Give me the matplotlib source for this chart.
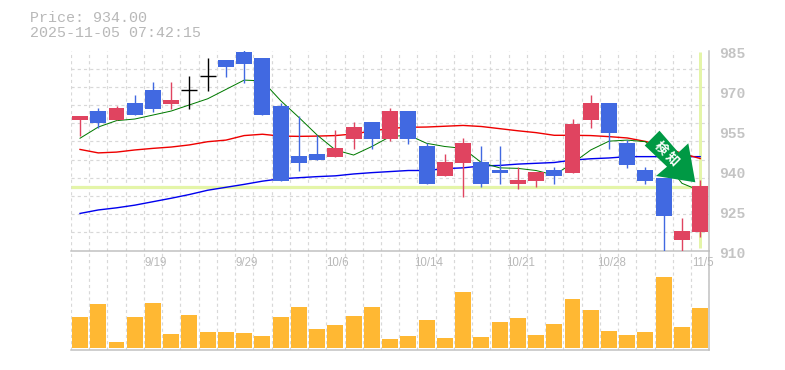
import matplotlib
matplotlib.use("Agg")
import matplotlib.pyplot as plt
import numpy as np
from matplotlib.patches import Polygon
from matplotlib.transforms import ScaledTranslation, IdentityTransform

W, H = 785, 370

opens = [958.9, 962.3, 958.9, 965.3, 970.2, 964.9, 970.1, 975.3, 981.4, 984.4, 982.2, 964.2,
         945.4, 946.2, 945.1, 951.8, 958.2, 951.8, 962.3, 949.2, 937.9, 942.8, 943.2, 940.2,
         934.9, 936.1, 940.2, 939.1, 958.9, 965.3, 950.3, 940.2, 937.2, 913.9, 916.9]
closes = [960.4, 957.8, 963.4, 960.8, 963.1, 966.4, 970.1, 975.3, 978.8, 979.9, 960.8, 936.1,
          942.8, 943.9, 948.4, 956.3, 951.8, 962.3, 951.8, 934.9, 943.2, 950.3, 934.9, 939.1,
          936.4, 939.4, 937.9, 957.4, 965.3, 954.1, 942.1, 936.1, 922.9, 917.3, 934.2]
highs = [960.4, 963.4, 964.2, 968.3, 973.2, 973.2, 975.4, 982.2, 981.4, 985.2, 982.2, 965.3,
         960.4, 953.3, 955.2, 958.2, 958.2, 963.4, 962.3, 950.3, 946.2, 952.2, 949.2, 949.2,
         941.3, 939.4, 941.3, 959.3, 968.3, 965.3, 951.4, 941.3, 937.2, 922.2, 936.4]
lows = [952.9, 955.9, 958.9, 960.8, 961.9, 963.1, 963.1, 969.8, 975.1, 972.8, 960.8, 936.1,
        939.8, 943.9, 945.1, 948.1, 948.1, 951.0, 949.9, 934.9, 937.9, 930.2, 933.8, 934.9,
        933.1, 933.8, 934.9, 939.1, 955.9, 948.1, 940.9, 934.9, 910.0, 910.0, 915.2]
ma_green = [952.1, 956.3, 958.7, 959.3, 960.8, 962.3, 964.6, 966.9, 970.4, 973.9, 973.6, 966.2,
            959.9, 953.3, 947.7, 945.8, 949.0, 952.7, 953.3, 950.2, 949.0, 948.3, 943.0, 941.0,
            940.8, 940.0, 938.3, 942.7, 947.7, 951.0, 951.4, 950.8, 944.0, 935.2, 932.4]
ma_red = [947.9, 946.6, 946.9, 947.7, 948.3, 948.8, 949.6, 950.8, 951.4, 953.1, 953.6, 952.9,
          952.8, 952.9, 953.1, 953.7, 954.8, 955.8, 956.2, 956.3, 956.6, 956.9, 956.5, 955.7,
          954.9, 954.2, 953.2, 953.2, 953.1, 952.7, 952.2, 950.9, 948.9, 946.4, 944.5]
ma_blue = [923.9, 925.2, 926.0, 927.0, 928.3, 929.6, 931.0, 932.6, 933.7, 934.8, 936.0, 936.9,
           937.3, 937.7, 938.0, 938.7, 939.2, 939.6, 940.0, 940.0, 940.7, 941.0, 941.7, 941.9,
           942.4, 942.7, 943.0, 943.9, 944.4, 944.7, 945.2, 945.2, 945.2, 945.2, 945.2]
volumes = [31, 44, 6, 31, 45, 14, 33, 16, 16, 15, 12, 31, 41, 19, 23, 32, 41, 9,
           12, 28, 10, 56, 11, 26, 30, 13, 24, 49, 38, 17, 13, 16, 71, 21, 40]
price_ticks = [910, 925, 940, 955, 970, 985]
date_pos = [4, 9, 14, 19, 24, 29, 34]
date_labels = ["9/19", "9/29", "10/6", "10/14", "10/21", "10/28", "11/5"]
current_price = 934.0
title_lines = ["Price: 934.00", "2025-11-05 07:42:15"]
signal_label = "検知"

C_UP, C_DOWN, C_DOJI = "#e04460", "#4169e1", "#000000"
C_GRID, C_AXIS, C_TEXT = "#d8d8d8", "#c0c0c0", "#b8b8b8"
C_HL, C_VOL, C_ARROW = "#e4f5a8", "#ffb833", "#009944"


def axes_px(left, top, right, bottom):
    return [left / W, 1 - bottom / H, (right - left) / W, (bottom - top) / H]


fig = plt.figure(figsize=(W / 100, H / 100), dpi=100, facecolor="white")
ax_v = fig.add_axes(axes_px(70.9, 250.5, 709.3, 350))
ax = fig.add_axes(axes_px(70.9, 50.5, 709.3, 250.5), sharex=ax_v)
ax.patch.set_visible(False)
x = np.arange(len(opens))
px = 72 / 100
dash = (0, (2.6, 2.6))

for a in (ax, ax_v):
    a.set_xlim(-0.5, 34.5)
    a.set_xticks(np.arange(-0.5, 35, 1), minor=True)
    a.tick_params(axis="x", which="minor", length=0)
    a.grid(True, which="minor", axis="x", color=C_GRID, lw=1.2 * px, linestyle=dash)
    a.set_axisbelow(True)
    for s in ("top", "left"):
        a.spines[s].set_visible(False)
    for s in ("bottom", "right"):
        a.spines[s].set_color(C_AXIS)
        a.spines[s].set_linewidth(1.5 * px)

# price panel
ax.set_ylim(910, 985)
ax.set_yticks(np.linspace(910, 985, 12), minor=True)
ax.grid(True, which="minor", axis="y", color=C_GRID, lw=1.2 * px, linestyle=dash)
ax.tick_params(axis="y", which="minor", length=0)
ax.yaxis.tick_right()
ax.set_yticks(price_ticks)
ax.tick_params(axis="y", which="major", length=0, pad=10 * px, labelcolor="#c4c4c4", labelsize=10.5)
for t in ax.get_yticklabels():
    t.set_fontfamily("Liberation Mono")
    t.set_fontweight("bold")
    t.set_transform(t.get_transform() + ScaledTranslation(0, -2.5 / 100, fig.dpi_scale_trans))

ax.set_xticks(date_pos)
ax.set_xticklabels(date_labels)
ax.tick_params(axis="x", which="major", length=0, pad=6 * px, labelcolor=C_TEXT, labelsize=8.3)
ax.tick_params(axis="x", labelbottom=True)
for t in ax.get_xticklabels():
    t.set_fontfamily("Liberation Sans")
    t.set_transform(t.get_transform() + ScaledTranslation(2.5 / 100, 0, fig.dpi_scale_trans))

ax.axhline(current_price, color=C_HL, lw=3.2 * px, zorder=1.5, solid_capstyle="butt")
ax.plot([34, 34], [911, 984.5], color=C_HL, lw=3 * px, zorder=1.5, solid_capstyle="butt")

ax.plot(x, ma_blue, color="#0000ee", lw=1.4 * px, zorder=2)
ax.plot(x, ma_red, color="#ee0000", lw=1.4 * px, zorder=2.1)
ax.plot(x, ma_green, color="#007a00", lw=1.0 * px, zorder=2.2)

o, c = np.array(opens), np.array(closes)
colors = [C_DOJI if a == b else (C_UP if b > a else C_DOWN) for a, b in zip(o, c)]
ax.vlines(x, lows, highs, colors=colors, lw=1.4 * px, zorder=3)
body = o != c
ax.bar(x[body], np.abs(c - o)[body], bottom=np.minimum(o, c)[body], width=0.877,
       color=[col for col, b in zip(colors, body) if b], zorder=3.1, linewidth=0)
ax.hlines(o[~body], x[~body] - 0.44, x[~body] + 0.44, colors=C_DOJI, lw=1.4 * px, zorder=3.1)

# volume panel
ax_v.set_ylim(-2, 97.5)
ax_v.set_yticks([])
ax_v.tick_params(axis="x", which="major", length=0, labelbottom=False)
ax_v.bar(x, volumes, width=0.877, color=C_VOL, linewidth=0, zorder=3)

# signal arrow (pixel coordinates, y flipped)
verts = [(659.5, 130.7), (644.7, 145.5), (667, 166.7), (656, 176), (695.3, 182.3),
         (688.3, 143.3), (678.5, 152.5)]
verts = [(vx, H - vy) for vx, vy in verts]
fig.add_artist(Polygon(verts, closed=True, facecolor=C_ARROW, edgecolor="none",
                       transform=IdentityTransform(), zorder=10))
for ch, (cx, cy) in zip(signal_label, [(660.7, 148.3), (671.7, 159.3)]):
    fig.text(cx / W, 1 - cy / H, ch, color="white", fontsize=9.4, fontweight="bold",
             family=["Noto Sans CJK JP", "DejaVu Sans"], rotation=-45, rotation_mode="anchor",
             ha="center", va="center", zorder=11)

# header
for line, yy in zip(title_lines, (18, 33)):
    fig.text(29.5 / W, 1 - yy / H, line, color=C_TEXT, fontsize=10.8,
             family="Liberation Mono", ha="left", va="center")

fig.savefig("out.png", dpi=100)
